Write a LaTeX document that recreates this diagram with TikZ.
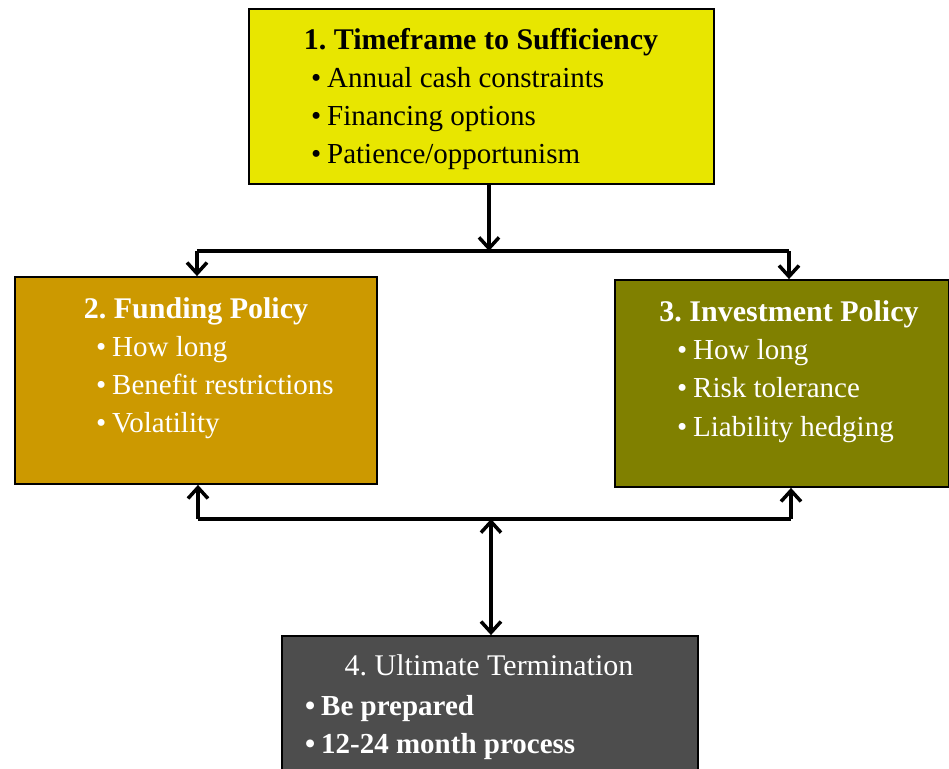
\documentclass[tikz,border=0pt]{standalone}
\usepackage{fontspec}
\setmainfont{Liberation Serif}
\usetikzlibrary{arrows.meta}
\frenchspacing
\definecolor{cyel}{HTML}{E8E600}
\definecolor{cgold}{HTML}{CC9900}
\definecolor{colive}{HTML}{808000}
\definecolor{cgray}{HTML}{4D4D4D}
\newcommand{\bul}{\llap{\textbullet\hspace{6pt}}}
\tikzset{
  box/.style={draw=black, line width=1.8pt, rectangle, inner sep=0pt},
  ttl/.style={font=\fontsize{30}{34}\selectfont\bfseries, inner sep=0pt, anchor=base},
  itm/.style={font=\fontsize{29}{33}\selectfont, inner sep=0pt, anchor=base west},
  conn/.style={line width=4.5pt},
  tip/.style={-{Straight Barb[length=11pt,width=20pt,line width=3.5pt]}},
  dtip/.style={{Straight Barb[length=11pt,width=20pt,line width=3.5pt]}-{Straight Barb[length=11pt,width=20pt,line width=3.5pt]}},
}
\begin{document}
\begin{tikzpicture}[x=1pt,y=-1pt]
\clip (0,0) rectangle (949,768);
\fill[white] (0,0) rectangle (949,768);
% boxes
\node[box, fill=cyel, minimum width=465pt, minimum height=175pt] (b1) at (481.5,96.5) {};
\node[box, fill=cgold, minimum width=362pt, minimum height=207pt] (b2) at (196,380.5) {};
\node[box, fill=colive, minimum width=334pt, minimum height=207pt] (b3) at (782,383.5) {};
\node[box, fill=cgray, minimum width=416pt, minimum height=150pt] (b4) at (490,711) {};
% box 1 text
\node[ttl] (t1) at (481,49) {1. Timeframe to Sufficiency};
\node[itm] (t1a) at (327,87) {\bul Annual cash constraints};
\node[itm] (t1b) at (327,125) {\bul Financing options};
\node[itm] (t1c) at (327,163) {\bul Patience/opportunism};
% box 2 text
\node[ttl, text=white] (t2) at (196,318) {2. Funding Policy};
\node[itm, text=white] (t2a) at (112,356) {\bul How long};
\node[itm, text=white] (t2b) at (112,394) {\bul Benefit restrictions};
\node[itm, text=white] (t2c) at (112,432) {\bul Volatility};
% box 3 text
\node[ttl, text=white] (t3) at (789,321) {3. Investment Policy};
\node[itm, text=white] (t3a) at (693,359) {\bul How long};
\node[itm, text=white] (t3b) at (693,397) {\bul Risk tolerance};
\node[itm, text=white] (t3c) at (693,436) {\bul Liability hedging};
% box 4 text
\node[ttl, text=white, font=\fontsize{30}{34}\selectfont] (t4) at (489,675) {4. Ultimate Termination};
\node[itm, text=white, font=\fontsize{29}{33}\selectfont\bfseries] (t4a) at (321,715) {\bul Be prepared};
\node[itm, text=white, font=\fontsize{29}{33}\selectfont\bfseries] (t4b) at (321,753) {\bul 12-24 month process};
% connectors
\coordinate (jt) at (489,251);
\coordinate (jl) at (197,251);
\coordinate (jr) at (789,251);
\coordinate (bm) at (491,519);
\coordinate (bl) at (198,519);
\coordinate (br) at (791,519);
\draw[conn] (jl) -- (jr);
\draw[conn, tip] (jt |- b1.south) -- (jt);
\draw[conn, tip] (jl) -- (jl |- b2.north);
\draw[conn, tip] (jr) -- (jr |- b3.north);
\draw[conn] (bl) -- (br);
\draw[conn, tip] (bl) -- (bl |- b2.south);
\draw[conn, tip] (br) -- (br |- b3.south);
\draw[conn, dtip] (bm) -- (bm |- b4.north);
\end{tikzpicture}
\end{document}
